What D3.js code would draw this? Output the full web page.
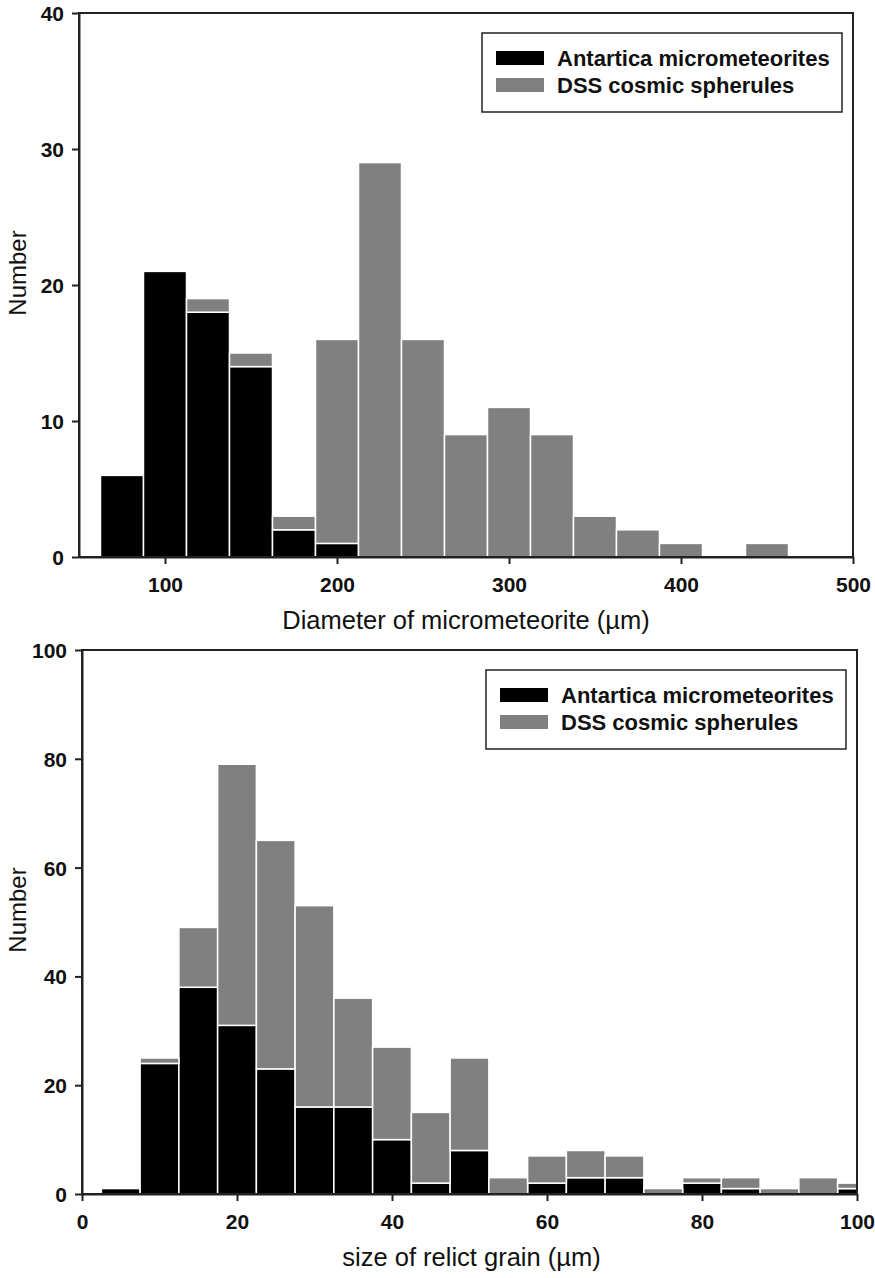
<!DOCTYPE html>
<html>
<head>
<meta charset="utf-8">
<script src="https://cdn.jsdelivr.net/npm/d3@7"></script>
<style>
  body { margin: 0; background: #fff; }
  svg { display: block; font-family: Arial, "Liberation Sans", sans-serif; }
  .tick text { font-weight: bold; font-size: 21px; fill: #111; }
  .tick line { stroke: #222; stroke-width: 2; }
</style>
</head>
<body>
<svg width="875" height="1278"></svg>
<script>
// top histogram: diameter (bin centres, width 25 µm)
var diamBins = [75, 100, 125, 150, 175, 200, 225, 250, 275, 300, 325, 350, 375, 400, 425, 450];
var diamAntarctica = [6, 21, 18, 14, 2, 1, 0, 0, 0, 0, 0, 0, 0, 0, 0, 0];
var diamDSS = [0, 0, 1, 1, 1, 15, 29, 16, 9, 11, 9, 3, 2, 1, 0, 1];
var diamXTicks = [100, 200, 300, 400, 500];
var diamYTicks = [0, 10, 20, 30, 40];

// bottom histogram: relict grain size (bin centres, width 5 µm)
var grainBins = [5, 10, 15, 20, 25, 30, 35, 40, 45, 50, 55, 60, 65, 70, 75, 80, 85, 90, 95, 100];
var grainAntarctica = [1, 24, 38, 31, 23, 16, 16, 10, 2, 8, 0, 2, 3, 3, 0, 2, 1, 0, 0, 1];
var grainDSS = [0, 1, 11, 48, 42, 37, 20, 17, 13, 17, 3, 5, 5, 4, 1, 1, 2, 1, 3, 1];
var grainXTicks = [0, 20, 40, 60, 80, 100];
var grainYTicks = [0, 20, 40, 60, 80, 100];

var seriesNames = ["Antartica micrometeorites", "DSS cosmic spherules"];
var colors = ["#000000", "#808080"];

var svg = d3.select("svg");

function drawHist(cfg) {
  var g = svg.append("g");
  var x = d3.scaleLinear().domain(cfg.xDomain).range([cfg.left, cfg.right]);
  var y = d3.scaleLinear().domain(cfg.yDomain).range([cfg.bottom, cfg.top]);

  var rows = cfg.bins.map(function(b, i) {
    return { bin: b, a: cfg.black[i], d: cfg.gray[i] };
  });
  var stack = d3.stack().keys(["a", "d"])(rows);

  var bars = g.append("g");
  stack.forEach(function(layer, li) {
    bars.selectAll(null)
      .data(layer.filter(function(d) { return d[1] > d[0]; }))
      .enter()
      .append("rect")
        .attr("x", function(d) { return x(Math.max(cfg.xDomain[0], d.data.bin - cfg.binW / 2)); })
        .attr("width", function(d) {
          var x0 = Math.max(cfg.xDomain[0], d.data.bin - cfg.binW / 2);
          var x1 = Math.min(cfg.xDomain[1], d.data.bin + cfg.binW / 2);
          return x(x1) - x(x0);
        })
        .attr("y", function(d) { return y(d[1]); })
        .attr("height", function(d) { return y(d[0]) - y(d[1]); })
        .attr("fill", colors[li])
        .attr("stroke", "#fff")
        .attr("stroke-width", 1.5);
  });

  // frame
  g.append("rect")
    .attr("x", cfg.left).attr("y", cfg.top)
    .attr("width", cfg.right - cfg.left).attr("height", cfg.bottom - cfg.top)
    .attr("fill", "none").attr("stroke", "#222").attr("stroke-width", 2);

  var xAxis = g.append("g")
    .attr("transform", "translate(0," + cfg.bottom + ")")
    .call(d3.axisBottom(x).tickValues(cfg.xTicks).tickSize(7).tickSizeOuter(0).tickPadding(13));
  xAxis.select(".domain").attr("stroke", "#222").attr("stroke-width", 2);

  var yAxis = g.append("g")
    .attr("transform", "translate(" + cfg.left + ",0)")
    .call(d3.axisLeft(y).tickValues(cfg.yTicks).tickSize(7).tickSizeOuter(0).tickPadding(8));
  yAxis.select(".domain").attr("stroke", "#222").attr("stroke-width", 2);
  yAxis.selectAll(".tick text").attr("dy", "0.36em");

  g.append("text")
    .attr("x", (cfg.left + cfg.right) / 2 + cfg.titleShift)
    .attr("y", cfg.bottom + 72)
    .attr("text-anchor", "middle")
    .style("font-size", "25.5px")
    .style("fill", "#111")
    .text(cfg.xTitle);

  g.append("text")
    .attr("transform", "translate(26," + ((cfg.top + cfg.bottom) / 2 - 12) + ") rotate(-90)")
    .attr("text-anchor", "middle")
    .style("font-size", "24px")
    .style("fill", "#111")
    .text("Number");

  // legend
  var lg = g.append("g").attr("transform", "translate(" + (cfg.right - 371) + "," + (cfg.top + 20) + ")");
  lg.append("rect")
    .attr("width", 360).attr("height", 79)
    .attr("fill", "#fff").attr("stroke", "#222").attr("stroke-width", 1.5);
  seriesNames.forEach(function(name, i) {
    lg.append("rect")
      .attr("x", 14).attr("y", 18 + i * 27)
      .attr("width", 48).attr("height", 14)
      .attr("fill", colors[i]);
    lg.append("text")
      .attr("x", 75).attr("y", 33 + i * 27)
      .style("font-size", "22px").style("font-weight", "bold").style("fill", "#111")
      .text(name);
  });
}

drawHist({
  left: 79, right: 853, top: 13, bottom: 557,
  xDomain: [50, 500], yDomain: [0, 40], binW: 25,
  bins: diamBins, black: diamAntarctica, gray: diamDSS,
  xTicks: diamXTicks, yTicks: diamYTicks,
  xTitle: "Diameter of micrometeorite (\u00b5m)", titleShift: 0
});

drawHist({
  left: 82, right: 857, top: 650, bottom: 1194,
  xDomain: [0, 100], yDomain: [0, 100], binW: 5,
  bins: grainBins, black: grainAntarctica, gray: grainDSS,
  xTicks: grainXTicks, yTicks: grainYTicks,
  xTitle: "size of relict grain (\u00b5m)", titleShift: 2
});
</script>
</body>
</html>
